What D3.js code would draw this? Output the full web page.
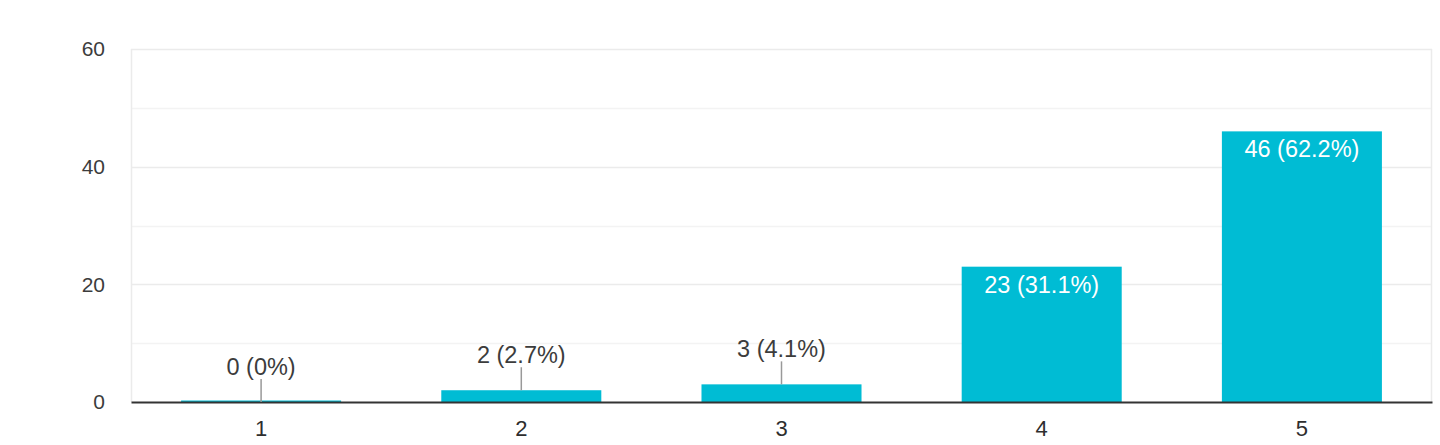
<!DOCTYPE html>
<html>
<head>
<meta charset="utf-8">
<script src="https://cdn.jsdelivr.net/npm/d3@7"></script>
<style>
  body { margin: 0; background: #fff; }
  svg { display: block; font-family: "Liberation Sans", Arial, sans-serif; }
</style>
</head>
<body>
<svg id="chart" width="1440" height="445"></svg>
<script>
var categories = ["1", "2", "3", "4", "5"];
var counts = [0, 2, 3, 23, 46];
var percents = ["0%", "2.7%", "4.1%", "31.1%", "62.2%"];
var yTicks = [0, 20, 40, 60];

var svg = d3.select("#chart"),
  margin = { top: 49, right: 8, bottom: 43, left: 131 },
  width = svg.attr("width") - margin.left - margin.right,
  height = svg.attr("height") - margin.top - margin.bottom,
  g = svg.append("g").attr("transform", "translate(" + margin.left + "," + margin.top + ")");

var x = d3.scaleBand().domain(categories).range([0, width]).paddingInner(0.385).paddingOuter(0.1925),
  y = d3.scaleLinear().domain([0, 60]).range([height, 0]);

var data = categories.map(function(c, i) {
  return { cat: c, value: counts[i], pct: percents[i] };
});

// minor + major gridlines
g.append("g")
  .selectAll("line")
  .data(d3.range(10, 61, 10))
  .enter().append("line")
  .attr("x1", 0).attr("x2", width)
  .attr("y1", function(d) { return Math.round(y(d)) + 0.5; })
  .attr("y2", function(d) { return Math.round(y(d)) + 0.5; })
  .attr("stroke", function(d) { return d % 20 == 0 ? "#ebebeb" : "#f3f3f3"; })
  .attr("stroke-width", 1.5);

// plot frame
g.append("line").attr("x1", 0.5).attr("x2", 0.5).attr("y1", 0).attr("y2", height)
  .attr("stroke", "#ebebeb").attr("stroke-width", 1.5);
g.append("line").attr("x1", width - 0.5).attr("x2", width - 0.5).attr("y1", 0).attr("y2", height)
  .attr("stroke", "#ebebeb").attr("stroke-width", 1.5);

// y axis labels
g.append("g")
  .call(d3.axisLeft(y).tickValues(yTicks).tickSize(0).tickPadding(26))
  .call(function(a) { a.select(".domain").remove(); })
  .selectAll("text")
  .attr("font-size", 21)
  .attr("font-family", "Liberation Sans, Arial, sans-serif")
  .attr("fill", "#3c3c3c");

// bars
g.selectAll(".bar")
  .data(data)
  .enter().append("rect")
  .attr("class", "bar")
  .attr("x", function(d) { return x(d.cat); })
  .attr("width", x.bandwidth())
  .attr("y", function(d) { return d.value == 0 ? height - 1.5 : y(d.value); })
  .attr("height", function(d) { return d.value == 0 ? 1.5 : height - y(d.value); })
  .attr("fill", "#00bcd4");

// x axis
g.append("g")
  .attr("transform", "translate(0," + height + ")")
  .call(d3.axisBottom(x).tickSize(0).tickPadding(18))
  .call(function(a) {
    a.select(".domain").attr("stroke", "#333").attr("stroke-width", 2);
  })
  .selectAll("text")
  .attr("font-size", 22)
  .attr("font-family", "Liberation Sans, Arial, sans-serif")
  .attr("fill", "#2e2e2e");

// labels
var inside = function(d) { return height - y(d.value) > 40; };

data.forEach(function(d) {
  var cx = x(d.cat) + x.bandwidth() / 2;
  var label = d.value + " (" + d.pct + ")";
  if (inside(d)) {
    g.append("text")
      .attr("x", cx)
      .attr("y", y(d.value) + 26)
      .attr("text-anchor", "middle")
      .attr("font-size", 23.5)
      .attr("fill", "#fff")
      .text(label);
  } else {
    var top = y(d.value);
    g.append("line")
      .attr("x1", cx).attr("x2", cx)
      .attr("y1", top - 23).attr("y2", top)
      .attr("stroke", "#999").attr("stroke-width", 1.5);
    g.append("text")
      .attr("x", cx)
      .attr("y", top - 27)
      .attr("text-anchor", "middle")
      .attr("font-size", 23.5)
      .attr("fill", "#3c3c3c")
      .text(label);
  }
});
</script>
</body>
</html>
